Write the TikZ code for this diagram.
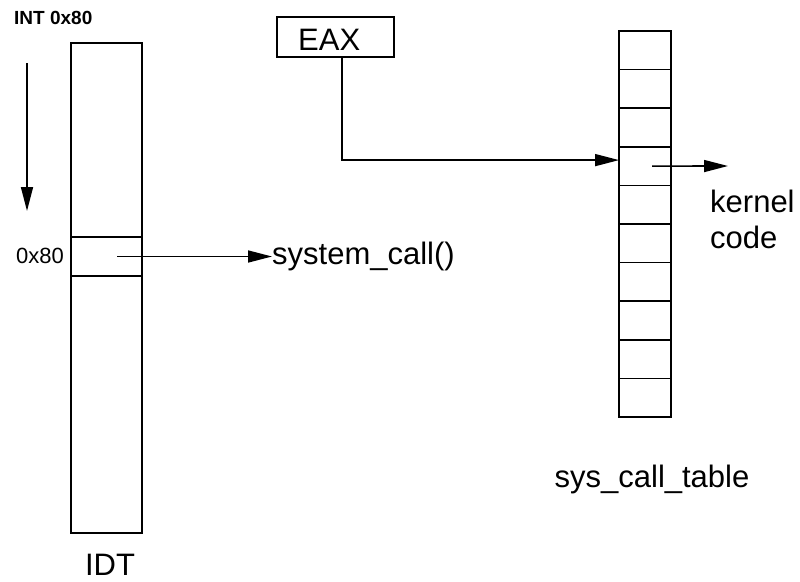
\documentclass[tikz,border=0pt]{standalone}
\usepackage{fontspec}
\setmainfont{Liberation Sans}
\usetikzlibrary{arrows.meta}

\tikzset{
	cell/.style={draw, line width=1.6pt, inner sep=0pt, outer sep=0pt},
	txt/.style={font=\fontsize{31}{36}\selectfont, inner sep=0pt},
	link/.style={line width=1.6pt, -{Triangle[length=24pt, width=12pt]}}
}

\begin{document}
\begin{tikzpicture}[x=1pt, y=-1pt]
					\def\rowH{38.6};
					\def\tabTop{31};

					\useasboundingbox (0,0) rectangle (800,581);

					% IDT
					\begin{scope}[cell/.append style={minimum width=71pt}]
						\node[cell, minimum height=194pt] (idtup) at (106.5,140) {};
						\node[cell, minimum height=39pt] (idt80) at (106.5,256.5) {};
						\node[cell, minimum height=257pt] (idtlow) at (106.5,404.5) {};
					\end{scope}
					\node[txt, anchor=base] (idtname) at (110,575) {IDT};
					\node[txt, font=\fontsize{22}{26}\selectfont, anchor=base east] (idtnum) at (64,263) {0x80};
					\node[txt, font=\bfseries\fontsize{19}{22}\selectfont, anchor=base west] (int) at (14,24) {INT 0x80};

					\coordinate (downA) at (27,63);
					\coordinate (downB) at (27,211);
					\draw[link] (downA) -- (downB);

					\node[txt, anchor=base west] (syscall) at (272,264) {system\_call()};
					\draw[link] ([xshift=10.5pt]idt80.center) -- (syscall.west |- idt80.center);

					% sys_call_table
					\foreach \i in {1,...,10}
					{
						\node[cell, minimum width=52pt, minimum height=\rowH pt] (tab\i) at (645,{\tabTop+(\i-0.5)*\rowH}) {};
					}
					\node[txt, anchor=base] (tabname) at (652,487) {sys\_call\_table};

					% EAX
					\node[cell, minimum width=117pt, minimum height=40pt] (eax) at (335.5,37) {};
					\node[txt, anchor=base west] (eaxtxt) at (298,50) {EAX};
					\draw[link] ([xshift=6.5pt]eax.south) |- ([yshift=6pt]tab4.west);

					\node[txt, anchor=base west, align=left] (kernel) at (710,248) {kernel\\code};
					\coordinate (kernA) at (728,166);
					\draw[link] ([xshift=7pt]tab4.center) -- (kernA);
				\end{tikzpicture}
\end{document}
